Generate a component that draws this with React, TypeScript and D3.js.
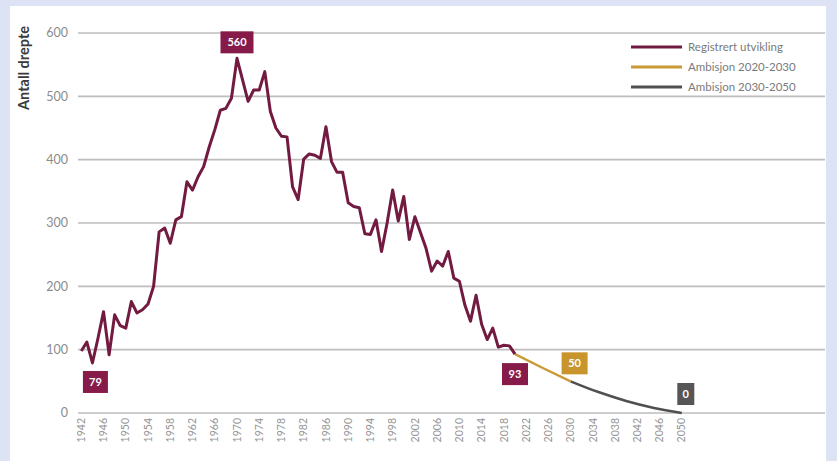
import React from "react";
import * as d3 from "d3";

// Registered road deaths per year, 1942–2020
const registeredYears = d3.range(1942, 2021);
const registeredValues = [
  98, 112, 79, 118, 160, 92, 155, 138, 134, 176,
  158, 163, 172, 200, 286, 292, 268, 305, 310, 365,
  352, 373, 389, 420, 447, 478, 481, 497, 560, 526,
  492, 510, 510, 539, 476, 450, 437, 436, 357, 337,
  401, 409, 407, 402, 452, 397, 380, 380, 332, 326,
  324, 283, 282, 305, 255, 300, 352, 303, 342, 274,
  310, 285, 260, 224, 240, 232, 255, 213, 208, 170,
  145, 186, 140, 116, 134, 104, 107, 106, 93,
];

// Ambition 2020–2030
const ambition1Years = [2020, 2025, 2030];
const ambition1Values = [93, 71, 50];

// Ambition 2030–2050
const ambition2Years = [2030, 2035, 2040, 2045, 2050];
const ambition2Values = [50, 33, 19, 8, 0];

const yTicks = [0, 100, 200, 300, 400, 500, 600];
const xTickYears = d3.range(1942, 2051, 4);

const legendItems = [
  { label: "Registrert utvikling", color: "#721a40" },
  { label: "Ambisjon 2020-2030", color: "#c99a35" },
  { label: "Ambisjon 2030-2050", color: "#505050" },
];

// Value callouts: year, value, box colour, offset from the point
const callouts = [
  { year: 1944, value: 79, color: "#861b4a", dx: 3, dy: 19, w: 25 },
  { year: 1970, value: 560, color: "#861b4a", dx: 0, dy: -16, w: 33 },
  { year: 2020, value: 93, color: "#861b4a", dx: 0, dy: 20, w: 26 },
  { year: 2030, value: 50, color: "#c8952c", dx: 4, dy: -18, w: 26 },
  { year: 2050, value: 0, color: "#565656", dx: 4, dy: -19, w: 17 },
];

const W = 837;
const H = 461;
const FONT = "Lato, 'Open Sans', sans-serif";

export default function App() {
  const x = d3.scaleLinear().domain([1942, 2050]).range([81.3, 681.8]);
  const y = d3.scaleLinear().domain([0, 600]).range([413, 33]);

  const line = d3
    .line<[number, number]>()
    .x((d) => x(d[0]))
    .y((d) => y(d[1]));
  const smooth = d3
    .line<[number, number]>()
    .x((d) => x(d[0]))
    .y((d) => y(d[1]))
    .curve(d3.curveMonotoneX);

  const registered = registeredYears.map((yr, i) => [yr, registeredValues[i]] as [number, number]);
  const amb1 = ambition1Years.map((yr, i) => [yr, ambition1Values[i]] as [number, number]);
  const amb2 = ambition2Years.map((yr, i) => [yr, ambition2Values[i]] as [number, number]);

  return (
    <svg
      width={W}
      height={H}
      style={{ position: "absolute", left: 0, top: 0, fontFamily: FONT }}
    >
      <rect x={0} y={0} width={W} height={H} fill="#dde2f4" />
      <rect x={10} y={6} width={816} height={H - 6} fill="#ffffff" />

      {/* grid and y ticks */}
      {yTicks.map((t) => (
        <g key={t}>
          <line x1={78} x2={825} y1={y(t)} y2={y(t)} stroke="#bdbdbd" strokeWidth={1.6} />
          <text x={68} y={y(t)} dy="0.35em" textAnchor="end" fontSize={12.5} fill="#8c8c8c">
            {t}
          </text>
        </g>
      ))}

      <text
        transform={`translate(29,68) rotate(-90)`}
        textAnchor="middle"
        fontSize={14.5}
        fontWeight={700}
        fill="#3a3a3a"
      >
        Antall drepte
      </text>

      {/* x tick labels */}
      {xTickYears.map((yr) => (
        <text
          key={yr}
          transform={`translate(${x(yr)},418) rotate(-90)`}
          textAnchor="end"
          dy="0.35em"
          fontSize={10.5}
          fill="#959595"
        >
          {yr}
        </text>
      ))}

      {/* series */}
      <path d={smooth(amb2) ?? ""} fill="none" stroke="#505050" strokeWidth={2.6} />
      <path d={line(amb1) ?? ""} fill="none" stroke="#c99a35" strokeWidth={2.4} />
      <path
        d={line(registered) ?? ""}
        fill="none"
        stroke="#721a40"
        strokeWidth={3}
        strokeLinejoin="round"
      />

      {/* callouts */}
      {callouts.map((c) => {
        const cx = x(c.year) + c.dx;
        const cy = y(c.value) + c.dy;
        return (
          <g key={c.year}>
            <rect x={cx - c.w / 2} y={cy - 11} width={c.w} height={22} fill={c.color} />
            <text
              x={cx}
              y={cy}
              dy="0.35em"
              textAnchor="middle"
              fontSize={11}
              fontWeight={700}
              fill="#ffffff"
            >
              {c.value}
            </text>
          </g>
        );
      })}

      {/* legend */}
      {legendItems.map((item, i) => (
        <g key={item.label} transform={`translate(631,${47 + i * 20})`}>
          <line x1={0} x2={51} y1={0} y2={0} stroke={item.color} strokeWidth={3.2} />
          <text x={57} y={0} dy="0.35em" fontSize={11.5} fill="#7a7a7a">
            {item.label}
          </text>
        </g>
      ))}
    </svg>
  );
}
